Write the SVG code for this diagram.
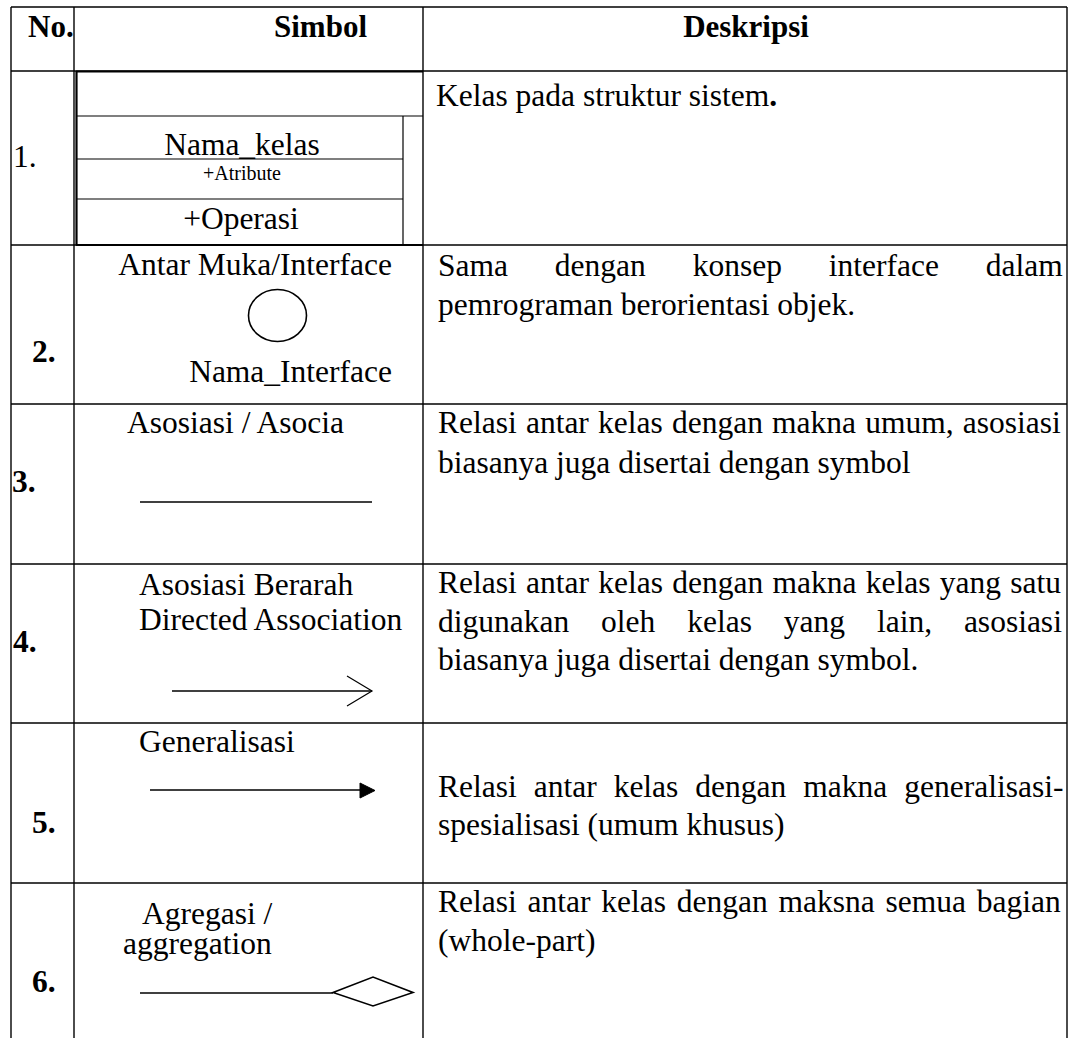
<svg xmlns="http://www.w3.org/2000/svg" width="1071" height="1038" viewBox="0 0 1071 1038">
<style>
.bg{fill:#ffffff}
.grid{stroke:#000;stroke-width:1.4;fill:none}
.thick{stroke:#000;stroke-width:2.2;fill:none}
.thin{stroke:#000;stroke-width:1.2;fill:none}
.sym{stroke:#000;stroke-width:1.6;fill:none}
.t{font-family:"Liberation Serif","Times New Roman",serif;font-size:31.5px;fill:#000}
.d{font-family:"Liberation Serif","Times New Roman",serif;font-size:31.5px;fill:#000}
.h{font-family:"Liberation Serif","Times New Roman",serif;font-size:31px;font-weight:bold;fill:#000}
.n{font-family:"Liberation Serif","Times New Roman",serif;font-size:31.5px;font-weight:bold;fill:#000}
.small{font-family:"Liberation Serif","Times New Roman",serif;font-size:20px;fill:#000}
</style>
<rect class="bg" x="0" y="0" width="1071" height="1038"/>

<g id="connectors">
  <line class="grid" x1="11" y1="7" x2="1067" y2="7"/>
  <line class="grid" x1="11" y1="7" x2="11" y2="1038"/>
  <line class="grid" x1="74" y1="7" x2="74" y2="1038"/>
  <line class="grid" x1="423" y1="7" x2="423" y2="1038"/>
  <line class="grid" x1="1067" y1="7" x2="1067" y2="1038"/>
  <line class="grid" x1="11" y1="71" x2="1067" y2="71"/>
  <line class="grid" x1="11" y1="245" x2="1067" y2="245"/>
  <line class="grid" x1="11" y1="404" x2="1067" y2="404"/>
  <line class="grid" x1="11" y1="564" x2="1067" y2="564"/>
  <line class="grid" x1="11" y1="723" x2="1067" y2="723"/>
  <line class="grid" x1="11" y1="883" x2="1067" y2="883"/>
</g>

<g id="header">
  <text class="h" x="28" y="37" font-size="30">No.</text>
  <text class="h" x="274" y="37">Simbol</text>
  <text class="h" x="746" y="37" text-anchor="middle">Deskripsi</text>
</g>

<g id="row-1">
  <text class="t" x="13" y="167">1.</text>
  <g id="class-box">
    <line class="thick" x1="76" y1="71.5" x2="423" y2="71.5"/>
    <line class="thick" x1="76.5" y1="71" x2="76.5" y2="245.5"/>
    <line class="thick" x1="76" y1="245" x2="423" y2="245"/>
    <line class="thin" x1="76" y1="116" x2="423" y2="116"/>
    <line class="thin" x1="403" y1="116" x2="403" y2="245"/>
    <line class="thin" x1="76" y1="159" x2="403" y2="159"/>
    <line class="thin" x1="76" y1="199" x2="403" y2="199"/>
    <text class="t" x="242" y="155" text-anchor="middle">Nama_kelas</text>
    <text class="small" x="242" y="180" text-anchor="middle">+Atribute</text>
    <text class="t" x="241" y="229" text-anchor="middle">+Operasi</text>
  </g>
  <text class="d" x="436" y="106">Kelas pada struktur sistem<tspan font-weight="bold">.</tspan></text>
</g>

<g id="row-2">
  <text class="n" x="32" y="362">2.</text>
  <text class="t" x="392" y="275" text-anchor="end">Antar Muka/Interface</text>
  <ellipse class="sym" cx="277.5" cy="315.5" rx="29" ry="26"/>
  <text class="t" x="392" y="382" text-anchor="end">Nama_Interface</text>
  <text class="d" x="438" y="276" word-spacing="39">Sama dengan konsep interface dalam</text>
  <text class="d" x="438" y="315">pemrograman berorientasi objek.</text>
</g>

<g id="row-3">
  <text class="n" x="12" y="492">3.</text>
  <text class="t" x="127" y="433">Asosiasi / Asocia</text>
  <line class="sym" x1="140" y1="502" x2="372" y2="502"/>
  <text class="d" x="438" y="433" word-spacing="1.3">Relasi antar kelas dengan makna umum, asosiasi</text>
  <text class="d" x="438" y="473">biasanya juga disertai dengan symbol</text>
</g>

<g id="row-4">
  <text class="n" x="13" y="652">4.</text>
  <text class="t" x="139" y="595">Asosiasi Berarah</text>
  <text class="t" x="139" y="630">Directed Association</text>
  <line class="sym" x1="172" y1="691" x2="372" y2="691"/>
  <polyline class="thin" points="347,676 372,691 347,706"/>
  <text class="d" x="438" y="593" word-spacing="1.4">Relasi antar kelas dengan makna kelas yang satu</text>
  <text class="d" x="438" y="631.5" word-spacing="24">digunakan oleh kelas yang lain, asosiasi</text>
  <text class="d" x="438" y="670">biasanya juga disertai dengan symbol.</text>
</g>

<g id="row-5">
  <text class="n" x="32" y="833">5.</text>
  <text class="t" x="139" y="752">Generalisasi</text>
  <line class="sym" x1="150" y1="790" x2="362" y2="790"/>
  <polygon points="360,783 375,790.5 360,798" fill="#000" stroke="#000" stroke-width="1"/>
  <text class="d" x="438" y="797" word-spacing="9.1">Relasi antar kelas dengan makna generalisasi-</text>
  <text class="d" x="438" y="835">spesialisasi (umum khusus)</text>
</g>

<g id="row-6">
  <text class="n" x="32" y="992">6.</text>
  <text class="t" x="142" y="924">Agregasi /</text>
  <text class="t" x="123" y="954">aggregation</text>
  <line class="sym" x1="140" y1="993" x2="333" y2="993"/>
  <polygon class="sym" points="333,992.5 373,977 413,992.5 373,1006"/>
  <text class="d" x="438" y="912" word-spacing="2.9">Relasi antar kelas dengan maksna semua bagian</text>
  <text class="d" x="438" y="951">(whole-part)</text>
</g>
</svg>
